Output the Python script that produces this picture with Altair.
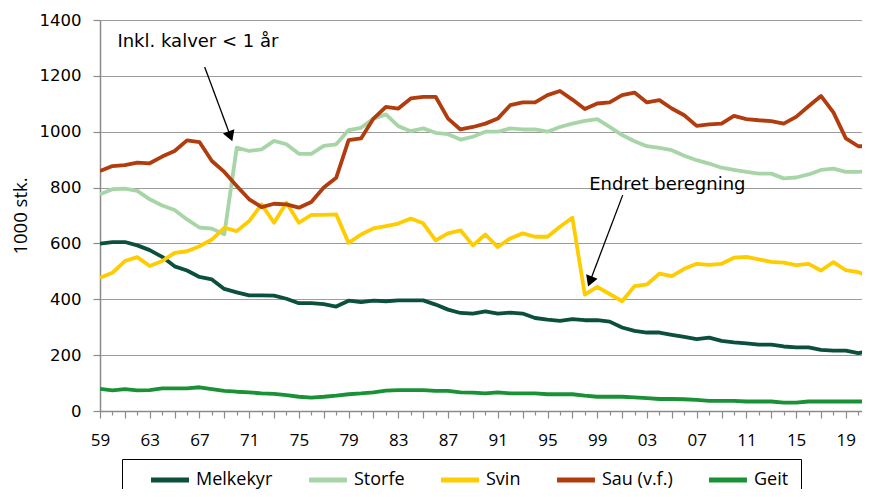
import math
import altair as alt
import pandas as pd

# ---------------- data ----------------
years = list(range(1959, 2022))

melkekyr = [599, 605, 605, 593, 576, 552, 518, 503, 480, 471, 437, 425, 414, 414, 413, 402, 386, 386, 383, 374,
            395, 390, 395, 393, 396, 396, 396, 381, 363, 351, 349, 357, 349, 352, 349, 333, 327, 323, 329, 325,
            325, 320, 299, 287, 281, 281, 273, 265, 257, 263, 251, 246, 242, 238, 238, 231, 228, 228, 219, 216,
            216, 207, 215]
storfe = [776, 794, 796, 788, 758, 736, 720, 686, 657, 653, 633, 943, 931, 937, 967, 955, 921, 921, 949, 955,
          1006, 1014, 1047, 1062, 1020, 1002, 1012, 996, 991, 972, 982, 1000, 1000, 1012, 1008, 1008, 1000, 1017,
          1029, 1039, 1045, 1017, 988, 966, 948, 942, 934, 914, 898, 886, 871, 863, 856, 850, 850, 833, 836, 847,
          863, 868, 856, 856, 860]
svin = [477, 495, 537, 551, 519, 537, 566, 572, 590, 614, 656, 644, 680, 740, 674, 746, 674, 702, 702, 704,
        602, 632, 654, 662, 671, 689, 672, 611, 636, 647, 593, 632, 587, 618, 636, 624, 624, 660, 692, 417,
        444, 419, 393, 447, 453, 492, 483, 509, 527, 523, 527, 549, 552, 543, 534, 531, 522, 527, 503, 533,
        504, 497, 480]
sau = [859, 877, 880, 889, 887, 911, 931, 969, 963, 895, 856, 806, 758, 730, 742, 740, 728, 748, 800, 835,
       970, 976, 1047, 1089, 1083, 1119, 1125, 1125, 1047, 1008, 1017, 1029, 1047, 1095, 1105, 1105, 1131, 1146,
       1115, 1081, 1101, 1105, 1131, 1140, 1105, 1113, 1083, 1059, 1021, 1026, 1029, 1057, 1045, 1041, 1038,
       1029, 1053, 1091, 1128, 1069, 976, 948, 948]
geit = [79, 74, 78, 74, 75, 81, 81, 81, 85, 78, 72, 69, 67, 63, 61, 57, 51, 48, 51, 55,
        60, 63, 67, 73, 75, 75, 75, 72, 72, 67, 66, 63, 67, 63, 63, 63, 60, 60, 60, 55,
        51, 51, 51, 49, 46, 43, 43, 42, 40, 36, 36, 36, 34, 34, 34, 30, 30, 34, 34, 34,
        34, 34, 34]

series_names = ["Melkekyr", "Storfe", "Svin", "Sau (v.f.)", "Geit"]
series_values = [melkekyr, storfe, svin, sau, geit]
series_colors = ["#0b4f3d", "#a8d5a8", "#ffcc00", "#b13c0e", "#1b9136"]

x_ticks = list(range(1959, 2021))
y_ticks = [0, 200, 400, 600, 800, 1000, 1200, 1400]

# annotations: (text, year, value) and arrows (tail year, tail value, tip year, tip value)
note_texts = ["Inkl. kalver < 1 år", "Endret beregning"]
note_x = [1960.4, 1998.35]
note_y = [1321, 809]
arrow_tail_x = [1967.42, 2001.05]
arrow_tail_y = [1232, 773]
arrow_tip_x = [1969.67, 1998.24]
arrow_tip_y = [963, 443]

# ---------------- layout ----------------
W, H = 762, 391
X_MAX = 2020.3
px_year = W / (X_MAX - 1959)
px_unit = H / 1400

rows = []
for name, vals in zip(series_names, series_values):
    for yr, v in zip(years, vals):
        rows.append({"year": yr, "value": v, "serie": name})
df = pd.DataFrame(rows)

# arrow heads: triangle centred slightly behind the tip
heads = []
for tx, ty, hx, hy in zip(arrow_tail_x, arrow_tail_y, arrow_tip_x, arrow_tip_y):
    dx = (hx - tx) * px_year
    dy = -(hy - ty) * px_unit
    L = math.hypot(dx, dy)
    ux, uy = dx / L, dy / L
    back = 6.2
    cx = hx - ux * back / px_year
    cy = hy + uy * back / px_unit
    ang = -math.degrees(math.atan2(ux, uy))
    heads.append({"x": cx, "y": cy, "angle": ang % 360})

arrows_df = pd.DataFrame({
    "x": arrow_tail_x, "y": arrow_tail_y,
    "x2": [h["x"] for h in heads], "y2": [h["y"] for h in heads],
})
notes_df = pd.DataFrame({"text": note_texts, "x": note_x, "y": note_y})
heads_df = pd.DataFrame(heads)

x_scale = alt.Scale(domain=[1959, X_MAX], nice=False, zero=False)
y_scale = alt.Scale(domain=[0, 1400], nice=False)
color_scale = alt.Scale(domain=series_names, range=series_colors)

AXIS_GRAY = "#8a8a8a"

x_axis = alt.Axis(
    values=x_ticks,
    grid=False,
    title=None,
    labelExpr="((datum.value - 1959) % 4 == 0) ? substring(toString(datum.value), 2, 4) : ''",
    labelOverlap=False,
    labelFlush=False,
    labelFont="Open Sans",
    labelFontSize=17,
    labelColor="#000000",
    labelPadding=14,
    domainColor=AXIS_GRAY,
    domainWidth=1.5,
    tickColor=AXIS_GRAY,
    tickWidth=1.2,
    tickSize={"condition": {"test": "datum.value % 2 == 1", "value": 7}, "value": 4},
)
y_axis = alt.Axis(
    values=y_ticks,
    format="d",
    grid=True,
    gridColor="#9c9c9c",
    gridWidth=1.2,
    title="1000 stk.",
    titleFont="Open Sans",
    titleFontSize=18.5,
    titleFontWeight="normal",
    titleColor="#000000",
    titleX=-70,
    labelFont="DejaVu Sans",
    labelFontSize=16.5,
    labelColor="#000000",
    labelPadding=12,
    domainColor=AXIS_GRAY,
    domainWidth=1.5,
    tickColor=AXIS_GRAY,
    tickWidth=1.2,
    tickSize=7,
)

legend = alt.Legend(
    title=" ",
    titleOrient="left",
    titleFont="Open Sans",
    titleFontSize=18,
    titlePadding=17,
    orient="none",
    legendX=22,
    legendY=439,
    direction="horizontal",
    symbolType="M-3,0H3",
    symbolSize=160,
    symbolStrokeWidth=5,
    symbolOffset=10,
    labelOffset=17,
    labelFont="Open Sans",
    labelFontSize=18,
    labelColor="#000000",
    labelLimit=300,
    labelExpr="datum.label == 'Geit' ? 'Geit" + "\u00a0" * 12 + "' : datum.label",
    columnPadding=26,
    padding=12,
    strokeColor="#000000",
)

base = alt.Chart(df)
layers = []
for name in series_names:
    layers.append(
        base.transform_filter(alt.datum.serie == name)
        .mark_line(strokeWidth=3.8, clip=True, strokeJoin="round")
        .encode(
            x=alt.X("year:Q", scale=x_scale, axis=x_axis),
            y=alt.Y("value:Q", scale=y_scale, axis=y_axis),
            color=alt.Color("serie:N", scale=color_scale, legend=legend),
        )
    )

arrow_rules = alt.Chart(arrows_df).mark_rule(color="#000000", strokeWidth=1.3).encode(
    x=alt.X("x:Q", scale=x_scale, axis=x_axis),
    y=alt.Y("y:Q", scale=y_scale, axis=y_axis),
    x2="x2:Q",
    y2="y2:Q",
)

arrow_heads = alt.Chart(heads_df).mark_point(
    shape="triangle-down", filled=True, color="#000000", size=150, opacity=1
).encode(
    x=alt.X("x:Q", scale=x_scale, axis=x_axis),
    y=alt.Y("y:Q", scale=y_scale, axis=y_axis),
    angle=alt.Angle("angle:Q", scale=None),
)

notes = alt.Chart(notes_df).mark_text(
    align="left", baseline="middle", font="DejaVu Sans", fontSize=18, color="#000000"
).encode(
    x=alt.X("x:Q", scale=x_scale, axis=x_axis),
    y=alt.Y("y:Q", scale=y_scale, axis=y_axis),
    text="text:N",
)

chart = alt.layer(*layers, arrow_rules, arrow_heads, notes).properties(
    width=W,
    height=H,
    autosize=alt.AutoSizeParams(type="none"),
    padding={"left": 92, "top": 12, "right": 0, "bottom": 78},
    background="#ffffff",
).configure_view(stroke=None)

chart.save("out.html", embed_options={"renderer": "svg", "actions": False})
